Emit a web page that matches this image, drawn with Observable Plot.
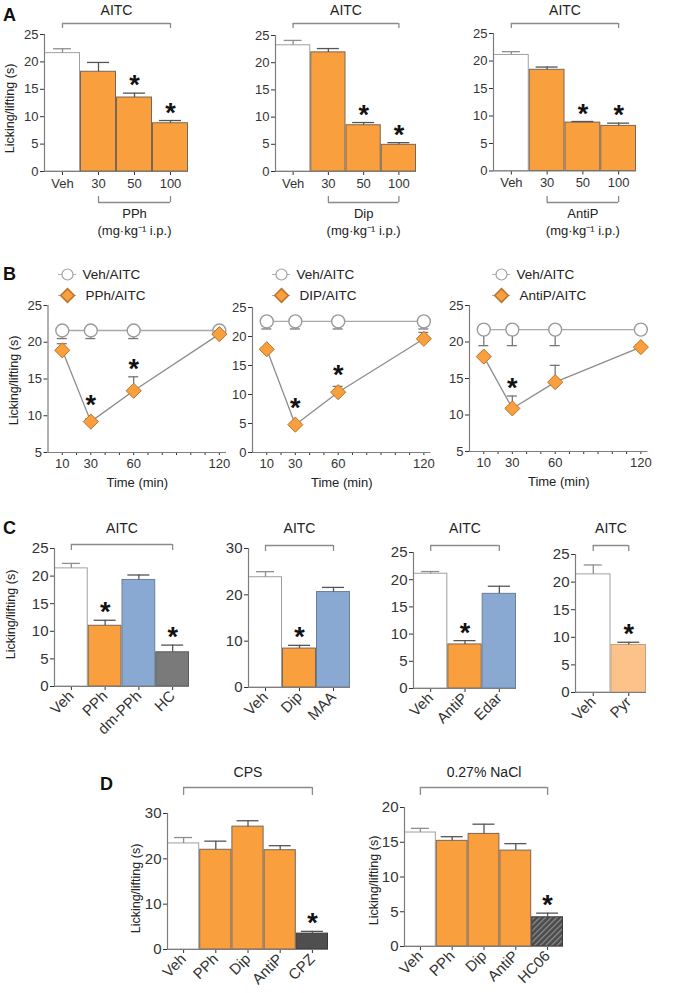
<!DOCTYPE html>
<html><head><meta charset="utf-8">
<script src="https://cdn.jsdelivr.net/npm/d3@7"></script>
<script src="https://cdn.jsdelivr.net/npm/@observablehq/plot@0.6"></script>
<style>
html,body{margin:0;padding:0;background:#fff;}
#fig{position:relative;width:676px;height:993px;overflow:hidden;font-family:'Liberation Sans',Arial,Helvetica,sans-serif;}
.letter{position:absolute;font-weight:bold;font-size:18px;line-height:18px;color:#111;}
</style></head><body>
<svg width="0" height="0" style="position:absolute">
<defs><pattern id="hatch" patternUnits="userSpaceOnUse" width="4" height="4" patternTransform="rotate(45)">
<rect width="4" height="4" fill="#4a4a4a"/><rect width="1.3" height="4" fill="#8c8c8c"/></pattern></defs></svg>
<div id="fig">
<div class="letter" style="left:3px;top:6px">A</div>
<div class="letter" style="left:3px;top:265px">B</div>
<div class="letter" style="left:3px;top:519px">C</div>
<div class="letter" style="left:100px;top:775px">D</div>
</div>
<script>
// ---------- DATA ----------
// Panel A: dose-response (AITC)
const aDoses = ["Veh", "30", "50", "100"];
const aGroups = ["vehicle", "drug", "drug", "drug"];
const aSig = [0, 0, 1, 1];
const aPPhMean = [21.6, 18.2, 13.5, 8.8];
const aPPhSem = [0.8, 1.7, 0.8, 0.5];
const aDipMean = [23.2, 21.9, 8.5, 4.9];
const aDipSem = [0.9, 0.7, 0.5, 0.4];
const aAntiPMean = [21.1, 18.4, 8.8, 8.2];
const aAntiPSem = [0.6, 0.5, 0.2, 0.5];

// Panel B: time course
const bTimes = [10, 30, 60, 120];
const bTimeTicks = [10, 30, 60, 120];
const bVehPPh = [21.6, 21.6, 21.6, 21.6];
const bVehPPhSem = [1.1, 1.1, 1.1, 0];
const bPPh = [18.9, 9.2, 13.4, 21.1];
const bPPhSem = [0.9, 0.4, 1.9, 0.4];
const bPPhSig = [0, 1, 1, 0];
const bVehDip = [22.6, 22.6, 22.6, 22.6];
const bVehDipSem = [1.3, 1.3, 1.3, 1.3];
const bDip = [17.8, 4.8, 10.4, 19.6];
const bDipSem = [0.3, 0.3, 1.0, 1.1];
const bDipSig = [0, 1, 1, 0];
const bVehAntiP = [21.7, 21.7, 21.7, 21.7];
const bVehAntiPSem = [2.2, 2.2, 2.2, 0];
const bAntiP = [18.0, 10.9, 14.5, 19.3];
const bAntiPSem = [0.3, 1.7, 2.3, 0.3];
const bAntiPSig = [0, 1, 0, 0];

// Panel C: analogues / other blockers (AITC)
const c1Cats = ["Veh", "PPh", "dm-PPh", "HC"];
const c1Groups = ["vehicle", "drug", "analog", "blocker"];
const c1Mean = [21.4, 11.0, 19.3, 6.2];
const c1Sem = [0.9, 1.0, 0.9, 1.3];
const c1Sig = [0, 1, 0, 1];
const c2Cats = ["Veh", "Dip", "MAA"];
const c2Groups = ["vehicle", "drug", "analog"];
const c2Mean = [23.8, 8.4, 20.6];
const c2Sem = [1.2, 0.7, 1.0];
const c2Sig = [0, 1, 0];
const c3Cats = ["Veh", "AntiP", "Edar"];
const c3Groups = ["vehicle", "drug", "analog"];
const c3Mean = [21.1, 8.1, 17.4];
const c3Sem = [0.4, 0.7, 1.4];
const c3Sig = [0, 1, 0];
const c4Cats = ["Veh", "Pyr"];
const c4Groups = ["vehicle", "pyr"];
const c4Mean = [21.4, 8.6];
const c4Sem = [1.7, 0.5];
const c4Sig = [0, 1];

// Panel D: CPS and NaCl
const d1Cats = ["Veh", "PPh", "Dip", "AntiP", "CPZ"];
const d1Groups = ["vehicle", "drug", "drug", "drug", "dark"];
const d1Mean = [23.4, 22.0, 27.1, 21.9, 3.5];
const d1Sem = [1.3, 1.9, 1.3, 1.0, 0.5];
const d1Sig = [0, 0, 0, 0, 1];
const d2Cats = ["Veh", "PPh", "Dip", "AntiP", "HC06"];
const d2Groups = ["vehicle", "drug", "drug", "drug", "hatched"];
const d2Mean = [16.4, 15.2, 16.2, 13.8, 4.2];
const d2Sem = [0.6, 0.6, 1.4, 1.0, 0.6];
const d2Sig = [0, 0, 0, 0, 1];

// ---------- STYLE ----------
const FONT = "'Liberation Sans', Arial, Helvetica, sans-serif";
const AX = "#7d7d7d", BR = "#8a8a8a", TXT = "#222";
const FILL = {vehicle: "#ffffff", drug: "#f99f3d", analog: "#89a9d3", blocker: "#7a7a7a", pyr: "#fcc28a", dark: "#4f4f4f", hatched: "url(#hatch)"};
const EDGE = {vehicle: "#a0a0a0", drug: "#7a6656", analog: "#6a7f9a", blocker: "#5e5e5e", pyr: "#c9a07a", dark: "#3a3a3a", hatched: "#3a3a3a"};
const YLABEL = "Licking/lifting (s)";
const fig = document.getElementById("fig");

function mount(chart, left, top) {
  chart.style.position = "absolute";
  chart.style.left = left + "px";
  chart.style.top = top + "px";
  fig.append(chart);
}

function barChart(o) {
  const n = o.cats.length;
  const rows = d3.range(n).map(i => ({i, v: o.vals[i], e: o.errs[i], g: o.groups[i], s: o.sig[i]}));
  const left = Math.max(0, o.x0 - 62), right = Math.min(676, o.x1 + 24);
  const top = o.titleY - 14, bottom = Math.min(993, o.yB + (o.rotate ? 62 : 76));
  const ppu = (o.yB - o.yT) / (o.ymax - o.ymin);
  const Y = py => o.ymin + (o.yB - py) / ppu;
  const XU = px => px * n / (o.x1 - o.x0);
  const X = px => -0.5 + XU(px - o.x0);
  const marks = [];
  for (const r of rows) {
    marks.push(Plot.rectY([r], {x1: d => d.i - 0.5, x2: d => d.i + 0.5, y1: o.ymin, y2: "v",
      fill: FILL[r.g], stroke: EDGE[r.g], strokeWidth: 1, insetLeft: 0.5, insetRight: 0.5}));
  }
  for (const r of rows) {
    const col = r.g === "vehicle" ? "#8f8f8f" : "#555";
    const cap = XU(r.g === "vehicle" ? 9 : 11);
    marks.push(Plot.ruleX([r], {x: "i", y1: "v", y2: d => d.v + d.e, stroke: col, strokeWidth: 1.3}));
    marks.push(Plot.ruleY([r], {y: d => d.v + d.e, x1: d => d.i - cap, x2: d => d.i + cap, stroke: col, strokeWidth: 1.3}));
  }
  marks.push(
    Plot.ruleX([-0.5], {y1: o.ymin, y2: o.ymax, stroke: AX, strokeWidth: 1.2}),
    Plot.ruleY([o.ymin], {x1: -0.5, x2: n - 0.5, stroke: AX, strokeWidth: 1.2}),
    Plot.text(rows.filter(d => d.s), {x: "i", y: d => d.v + d.e, text: () => "*", lineAnchor: "bottom", dy: 1,
      fontSize: 27, fontWeight: "bold", fill: "#111"}),
    Plot.ruleY([Y(o.brY)], {x1: o.b0, x2: o.b1, stroke: BR, strokeWidth: 1.3}),
    Plot.ruleX([o.b0, o.b1], {y1: Y(o.brY), y2: Y(o.brY + (o.brDrop || 6)), stroke: BR, strokeWidth: 1.3}),
    Plot.text([o.title], {x: (o.b0 + o.b1) / 2, y: Y(o.titleY), text: d => d, lineAnchor: "middle", fontSize: 14, fill: TXT})
  );
  if (o.sub) {
    const s = o.sub;
    marks.push(
      Plot.ruleY([Y(s.lineY)], {x1: s.i0, x2: s.i1, stroke: BR, strokeWidth: 1.3}),
      Plot.ruleX([s.i0, s.i1], {y1: Y(s.lineY), y2: Y(s.lineY - 6), stroke: BR, strokeWidth: 1.3}),
      Plot.text([s.label], {x: (s.i0 + s.i1) / 2, y: Y(s.labelY), text: d => d, lineAnchor: "middle", fontSize: 13, fill: TXT}),
      Plot.text(["(mg·kg⁻¹ i.p.)"], {x: (s.i0 + s.i1) / 2, y: Y(s.unitY), text: d => d, lineAnchor: "middle", fontSize: 13, fill: TXT})
    );
  }
  if (o.ytX !== undefined) {
    marks.push(Plot.text([YLABEL], {x: X(o.ytX), y: Y(o.ytY), rotate: -90, text: d => d,
      textAnchor: "middle", lineAnchor: "middle", fontSize: 12.5, fill: TXT}));
  }
  const chart = Plot.plot({
    width: right - left, height: bottom - top,
    marginLeft: o.x0 - left, marginRight: right - o.x1, marginTop: o.yT - top, marginBottom: bottom - o.yB,
    x: {domain: [-0.5, n - 0.5], ticks: d3.range(n), tickFormat: i => o.cats[i], tickSize: 4,
        tickPadding: 3, tickRotate: o.rotate ? -45 : 0, label: null},
    y: {domain: [o.ymin, o.ymax], ticks: o.yticks, tickSize: 4, tickPadding: 2, label: null},
    style: {background: "transparent", overflow: "visible", fontFamily: FONT, fontSize: o.rotate ? "15px" : "13px", color: "#333"},
    marks
  });
  if (o.rotate) {
    // keep y tick labels at regular size
    chart.querySelectorAll("g[aria-label='y-axis'] text").forEach(t => t.setAttribute("font-size", "13.5"));
  }
  mount(chart, left, top);
}

function lineChart(o) {
  const left = Math.max(0, o.x0 - 60), right = Math.min(676, o.x1 + 22);
  const top = 260, bottom = 500;
  const ppu = (o.yB - o.yT) / (o.ymax - o.ymin);
  const Y = py => o.ymin + (o.yB - py) / ppu;
  const tpp = 125 / (o.x1 - o.x0);
  const X = px => (px - o.x0) * tpp;
  const veh = bTimes.map((t, i) => ({t, v: o.veh[i], e: o.vehErr[i]}));
  const drug = bTimes.map((t, i) => ({t, v: o.drug[i], e: o.drugErr[i], s: o.sig[i]}));
  const cap = 5 * tpp;
  const marks = [
    Plot.ruleX([0], {y1: o.ymin, y2: o.ymax, stroke: AX, strokeWidth: 1.2}),
    Plot.ruleY([o.ymin], {x1: 0, x2: 125, stroke: AX, strokeWidth: 1.2}),
    Plot.text(["Time (min)"], {x: 62.5, y: Y(o.yB + 30), text: d => d, lineAnchor: "middle", fontSize: 13, fill: TXT}),
    Plot.line(veh, {x: "t", y: "v", stroke: "#a8a8a8", strokeWidth: 1.3}),
    Plot.ruleX(veh.filter(d => d.e > 0), {x: "t", y1: "v", y2: d => d.v - d.e, stroke: "#777", strokeWidth: 1.3}),
    Plot.ruleY(veh.filter(d => d.e > 0), {y: d => d.v - d.e, x1: d => d.t - cap, x2: d => d.t + cap, stroke: "#777", strokeWidth: 1.3}),
    Plot.dot(veh, {x: "t", y: "v", r: 6.5, fill: "white", stroke: "#9a9a9a", strokeWidth: 1.4}),
    Plot.line(drug, {x: "t", y: "v", stroke: "#8c8c8c", strokeWidth: 1.3}),
    Plot.ruleX(drug.filter(d => d.e > 0), {x: "t", y1: "v", y2: d => d.v + d.e, stroke: "#777", strokeWidth: 1.3}),
    Plot.ruleY(drug.filter(d => d.e > 0), {y: d => d.v + d.e, x1: d => d.t - cap, x2: d => d.t + cap, stroke: "#777", strokeWidth: 1.3}),
    Plot.dot(drug, {x: "t", y: "v", symbol: "diamond2", r: 6.8, fill: "#f99f3d", stroke: "#b8742c", strokeWidth: 1}),
    Plot.text(drug.filter(d => d.s), {x: "t", y: d => Math.max(d.v + d.e, d.v + 9 / ppu), text: () => "*",
      lineAnchor: "bottom", dy: 1, fontSize: 27, fontWeight: "bold", fill: "#111"}),
    Plot.ruleY([Y(o.ly1)], {x1: X(o.lx - 9), x2: X(o.lx + 9), stroke: "#b0b0b0"}),
    Plot.dot([0], {x: X(o.lx), y: Y(o.ly1), r: 5.5, fill: "white", stroke: "#a0a0a0", strokeWidth: 1.2}),
    Plot.text(["Veh/AITC"], {x: X(o.lx + 15), y: Y(o.ly1), text: d => d, textAnchor: "start", lineAnchor: "middle", fontSize: 13.5, fill: TXT}),
    Plot.ruleY([Y(o.ly2)], {x1: X(o.lx - 9), x2: X(o.lx + 9), stroke: "#b0b0b0"}),
    Plot.dot([0], {x: X(o.lx), y: Y(o.ly2), symbol: "diamond2", r: 6.2, fill: "#f99f3d", stroke: "#b8742c"}),
    Plot.text([o.drugLabel], {x: X(o.lx + 18), y: Y(o.ly2), text: d => d, textAnchor: "start", lineAnchor: "middle", fontSize: 13.5, fill: TXT})
  ];
  if (o.ytX !== undefined) {
    marks.push(Plot.text([YLABEL], {x: X(o.ytX), y: Y(o.ytY), rotate: -90, text: d => d,
      textAnchor: "middle", lineAnchor: "middle", fontSize: 12.5, fill: TXT}));
  }
  const chart = Plot.plot({
    width: right - left, height: bottom - top,
    marginLeft: o.x0 - left, marginRight: right - o.x1, marginTop: o.yT - top, marginBottom: bottom - o.yB,
    x: {domain: [0, 125], ticks: d3.range(10, 130, 10), tickFormat: d => bTimeTicks.includes(d) ? String(d) : "",
        tickSize: 3, tickPadding: 3, label: null},
    y: {domain: [o.ymin, o.ymax], ticks: o.yticks, tickSize: 4, tickPadding: 2, label: null},
    style: {background: "transparent", overflow: "visible", fontFamily: FONT, fontSize: "13px", color: "#333"},
    marks
  });
  mount(chart, left, top);
}

const t25 = [0, 5, 10, 15, 20, 25];
// Row A
barChart({cats: aDoses, vals: aPPhMean, errs: aPPhSem, groups: aGroups, sig: aSig, x0: 44, x1: 188, yT: 34, yB: 171,
  ymin: 0, ymax: 25, yticks: t25, title: "AITC", titleY: 10, brY: 23, brDrop: 5, b0: 0, b1: 3, ytX: 9, ytY: 108,
  sub: {i0: 1, i1: 3, lineY: 202, labelY: 213, unitY: 230, label: "PPh"}});
barChart({cats: aDoses, vals: aDipMean, errs: aDipSem, groups: aGroups, sig: aSig, x0: 275, x1: 416, yT: 35, yB: 171,
  ymin: 0, ymax: 25, yticks: t25, title: "AITC", titleY: 10, brY: 23, brDrop: 5, b0: 0, b1: 3,
  sub: {i0: 1, i1: 3, lineY: 202, labelY: 213, unitY: 230, label: "Dip"}});
barChart({cats: aDoses, vals: aAntiPMean, errs: aAntiPSem, groups: aGroups, sig: aSig, x0: 493, x1: 636, yT: 33, yB: 170.5,
  ymin: 0, ymax: 25, yticks: t25, title: "AITC", titleY: 10, brY: 23, brDrop: 5, b0: 0, b1: 3,
  sub: {i0: 1, i1: 3, lineY: 202, labelY: 213, unitY: 230, label: "AntiP"}});

// Row B
lineChart({veh: bVehPPh, vehErr: bVehPPhSem, drug: bPPh, drugErr: bPPhSem, sig: bPPhSig, drugLabel: "PPh/AITC",
  x0: 47.5, x1: 226, yT: 305, yB: 452, ymin: 5, ymax: 25, yticks: [5, 10, 15, 20, 25], lx: 67, ly1: 274, ly2: 295, ytX: 13, ytY: 380});
lineChart({veh: bVehDip, vehErr: bVehDipSem, drug: bDip, drugErr: bDipSem, sig: bDipSig, drugLabel: "DIP/AITC",
  x0: 252, x1: 430.5, yT: 307, yB: 452, ymin: 0, ymax: 25, yticks: t25, lx: 281, ly1: 274, ly2: 295});
lineChart({veh: bVehAntiP, vehErr: bVehAntiPSem, drug: bAntiP, drugErr: bAntiPSem, sig: bAntiPSig, drugLabel: "AntiP/AITC",
  x0: 469, x1: 647.5, yT: 305, yB: 451, ymin: 5, ymax: 25, yticks: [5, 10, 15, 20, 25], lx: 501, ly1: 274, ly2: 295});

// Row C
barChart({cats: c1Cats, vals: c1Mean, errs: c1Sem, groups: c1Groups, sig: c1Sig, x0: 54, x1: 189, yT: 548, yB: 686,
  ymin: 0, ymax: 25, yticks: t25, title: "AITC", titleY: 528, brY: 544, b0: 0, b1: 3, rotate: true, ytX: 10, ytY: 614});
barChart({cats: c2Cats, vals: c2Mean, errs: c2Sem, groups: c2Groups, sig: c2Sig, x0: 248, x1: 350, yT: 548, yB: 687,
  ymin: 0, ymax: 30, yticks: [0, 10, 20, 30], title: "AITC", titleY: 528, brY: 545, b0: 0, b1: 2, rotate: true});
barChart({cats: c3Cats, vals: c3Mean, errs: c3Sem, groups: c3Groups, sig: c3Sig, x0: 413, x1: 516, yT: 552, yB: 688,
  ymin: 0, ymax: 25, yticks: t25, title: "AITC", titleY: 528, brY: 545, b0: 0, b1: 2, rotate: true});
barChart({cats: c4Cats, vals: c4Mean, errs: c4Sem, groups: c4Groups, sig: c4Sig, x0: 575, x1: 646, yT: 554, yB: 692,
  ymin: 0, ymax: 25, yticks: t25, title: "AITC", titleY: 528, brY: 545, b0: 0, b1: 1, rotate: true});

// Row D
barChart({cats: d1Cats, vals: d1Mean, errs: d1Sem, groups: d1Groups, sig: d1Sig, x0: 167, x1: 328, yT: 813, yB: 949,
  ymin: 0, ymax: 30, yticks: [0, 10, 20, 30], title: "CPS", titleY: 772, brY: 787, brDrop: 8, b0: 0, b1: 4, rotate: true, ytX: 135, ytY: 888});
barChart({cats: d2Cats, vals: d2Mean, errs: d2Sem, groups: d2Groups, sig: d2Sig, x0: 404, x1: 563, yT: 807, yB: 946,
  ymin: 0, ymax: 20, yticks: [0, 5, 10, 15, 20], title: "0.27% NaCl", titleY: 772, brY: 787, brDrop: 8, b0: 0, b1: 4, rotate: true, ytX: 373, ytY: 880});
</script>
</body></html>
